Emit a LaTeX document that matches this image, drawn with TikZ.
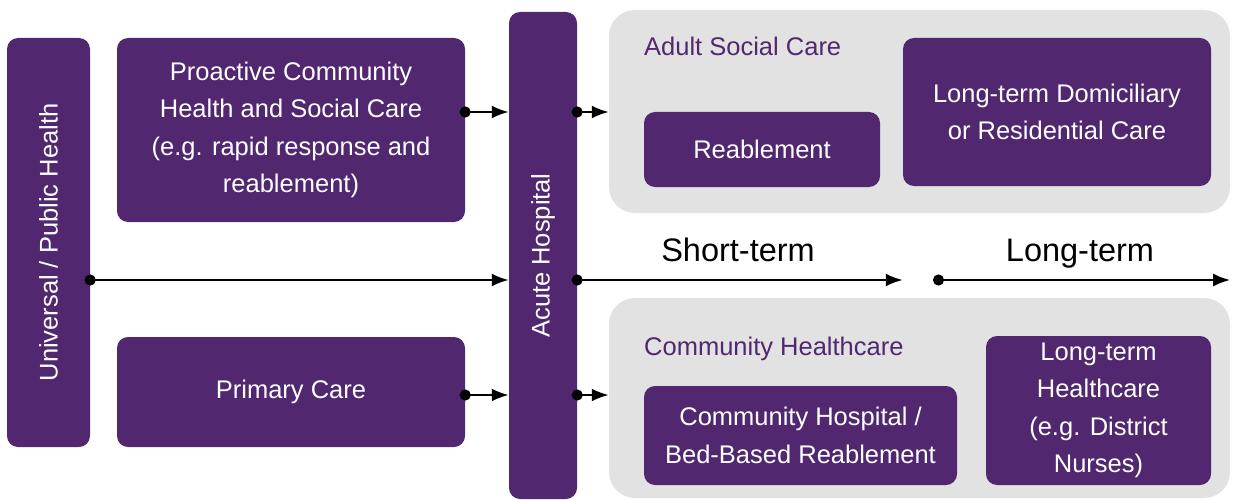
\documentclass[tikz,border=0pt]{standalone}
\usepackage{fontspec}
\setmainfont{Liberation Sans}
\usepackage{tikz}
\usetikzlibrary{arrows.meta, positioning, calc, backgrounds}
\definecolor{Plum}{HTML}{51276F}
\definecolor{PanelGrey}{HTML}{E2E2E2}

\begin{document}
\begin{tikzpicture}[
    x=1pt,
    y=-1pt,
    font=\fontsize{25.5}{37.5}\selectfont,
    box/.style={fill=Plum, draw=none, rounded corners=11pt, align=center, text=white, inner sep=0pt},
    panel/.style={fill=PanelGrey, draw=none, rounded corners=26pt, inner sep=0pt},
    tag/.style={text=Plum, anchor=base west, inner sep=0pt},
    term/.style={font=\fontsize{32.5}{36}\selectfont, anchor=base, inner sep=0pt},
    link/.style={{Circle[length=11pt]}-{Latex[length=17pt,width=13pt]}, line width=2.4pt, shorten <=-5.5pt}
  ]
    \useasboundingbox (0,0) rectangle (1236,500);

    % grey panels
    \node[panel, minimum width=621pt, minimum height=203pt] (adult) at (919.5,111.5) {};
    \node[panel, minimum width=621pt, minimum height=200pt] (community) at (919.5,398) {};
    \node[tag] (adultlbl) at (644,56) {Adult Social Care};
    \node[tag] (commlbl) at (644,355) {Community Healthcare};

    % purple boxes
    \node[box, rotate=90, minimum width=409pt, minimum height=83pt] (univ) at (48.5,242.5) {Universal / Public Health};
    \node[box, minimum width=348pt, minimum height=184pt] (proactive) at (291,130) {Proactive Community\\Health and Social Care\\(e.g. rapid response and\\reablement)};
    \node[box, minimum width=348pt, minimum height=110pt] (primary) at (291,392) {Primary Care};
    \node[box, rotate=90, minimum width=487pt, minimum height=68pt] (acute) at (543,255.5) {Acute Hospital};

    \node[box, minimum width=236pt, minimum height=75pt] (reable) at (762,149.5) {Reablement};
    \node[box, minimum width=308pt, minimum height=148pt] (longdom) at (1057,112) {Long-term Domiciliary\\or Residential Care};
    \node[box, minimum width=313pt, minimum height=99pt] (commhosp) at (800.5,435.5) {Community Hospital /\\Bed-Based Reablement};
    \node[box, minimum width=225pt, minimum height=149pt] (longhc) at (1098.5,410.5) {Long-term\\Healthcare\\(e.g. District\\Nurses)};

    % axis
    \coordinate (axis) at (0,280);
    \coordinate (longstart) at (933,280);
    \node[term] (short) at (738,261) {Short-term};
    \node[term] (long) at (1080,261) {Long-term};

    \draw[link] ([yshift=18pt]proactive.east) -- ([yshift=18pt]proactive.east -| acute.north);
    \draw[link] ([yshift=18pt]proactive.east -| acute.south) -- ([yshift=18pt]proactive.east -| adult.west);
    \draw[link] ([yshift=-3pt]primary.east) -- ([yshift=-3pt]primary.east -| acute.north);
    \draw[link] ([yshift=-3pt]primary.east -| acute.south) -- ([yshift=-3pt]primary.east -| community.west);

    \draw[link] (univ.south |- axis) -- (acute.north |- axis);
    \draw[link] (acute.south |- axis) -- (longdom.west |- axis);
    \draw[link, shorten <=0pt] (longstart) -- (adult.east |- axis);
\end{tikzpicture}
\end{document}
